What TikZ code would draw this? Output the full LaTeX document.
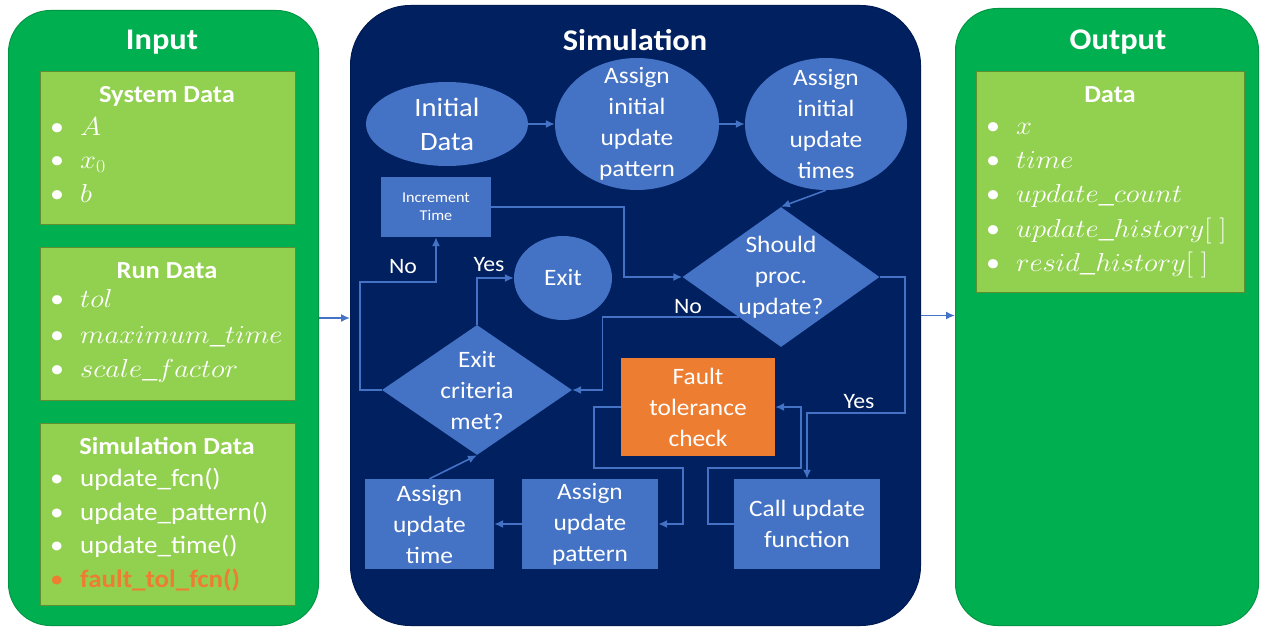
\documentclass[tikz,border=0pt]{standalone}
\usepackage{fix-cm}
\usepackage{fontspec}
\setmainfont{Carlito}[FakeStretch=1.08]
\usetikzlibrary{shapes.geometric,arrows.meta,calc}
\definecolor{ingreen}{HTML}{00B050}
\definecolor{boxgreen}{HTML}{92D050}
\definecolor{boxedge}{HTML}{5E8F33}
\definecolor{navy}{HTML}{002060}
\definecolor{nodeblue}{HTML}{4472C4}
\definecolor{orng}{HTML}{ED7D31}
\newcommand{\myitem}[1]{\makebox[30pt][l]{\textbullet}#1}
\newcommand{\mthitem}[1]{\makebox[30pt][l]{\textbullet}\scalebox{1.1}[1]{$#1$}}
\begin{document}
\begin{tikzpicture}[x=1pt,y=-1pt,
  panelbox/.style={anchor=north west, inner sep=0pt, draw=#1!85!black, line width=1pt, fill=#1},
  databox/.style={anchor=north west, inner sep=0pt, fill=boxgreen, draw=boxedge, line width=0.8pt},
  bigtitle/.style={text=white, font=\fontsize{30}{36}\selectfont\bfseries, inner sep=0pt},
  subtitle/.style={text=white, font=\fontsize{24.5}{30}\selectfont\bfseries, inner sep=0pt},
  item/.style={anchor=west, text=white, inner sep=0pt, text height=17pt, text depth=6pt, font=\fontsize{25}{30}\selectfont},
  mitem/.style={item, font=\fontsize{26}{30}\selectfont},
  flow/.style={fill=nodeblue, inner sep=0pt},
  flowtext/.style={text=white, align=center, inner sep=0pt, font=\fontsize{23.5}{31}\selectfont},
  bigflowtext/.style={text=white, align=center, inner sep=0pt, font=\fontsize{26.5}{34}\selectfont},
  smalltext/.style={text=white, align=center, inner sep=0pt, font=\fontsize{15}{18}\selectfont},
  yn/.style={text=white, inner sep=0pt, font=\fontsize{22}{26}\selectfont},
  conn/.style={draw=nodeblue, line width=1.6pt, -{Latex[length=9pt,width=8pt]}}
]
\fill[white] (0,0) rectangle (1263,628);
\useasboundingbox (0,0) rectangle (1263,628);

% panels
\node[panelbox=ingreen, minimum width=310pt, minimum height=615pt, rounded corners=42pt] (input) at (8,10) {};
\node[panelbox=navy, minimum width=570pt, minimum height=620pt, rounded corners=60pt] (sim) at (350,5) {};
\node[panelbox=ingreen, minimum width=303pt, minimum height=617pt, rounded corners=42pt] (output) at (955,8) {};

\node[bigtitle] (intitle) at (162,42) {Input};
\node[bigtitle] (simtitle) at (635,40) {Simulation};
\node[bigtitle] (outtitle) at (1118,42) {Output};

% input boxes
\node[databox, minimum width=255pt, minimum height=153pt] (sysbox) at (40,71) {};
\node[subtitle] (systitle) at (167,96) {System Data};
\node[mitem] (sysA) at (50,130) {\mthitem{A}};
\node[mitem] (sysx) at (50,163) {\mthitem{x_0}};
\node[mitem] (sysb) at (50,197) {\mthitem{b}};

\node[databox, minimum width=255pt, minimum height=153pt] (runbox) at (40,247) {};
\node[subtitle] (runtitle) at (167,271) {Run Data};
\node[mitem] (runtol) at (50,302) {\mthitem{tol}};
\node[mitem] (runmax) at (50,338) {\mthitem{maximum\_time}};
\node[mitem] (runscale) at (50,372) {\mthitem{scale\_factor}};

\node[databox, minimum width=255pt, minimum height=182pt] (simbox) at (40,423) {};
\node[subtitle] (simdtitle) at (167,446) {Simulation Data};
\node[item] (sdA) at (50,481) {\myitem{update\_fcn()}};
\node[item] (sdB) at (50,515) {\myitem{update\_pattern()}};
\node[item] (sdC) at (50,548) {\myitem{update\_time()}};
\node[item, text=orng] (sdD) at (50,582) {\myitem{\bfseries fault\_tol\_fcn()}};

% output box
\node[databox, minimum width=268pt, minimum height=221pt] (outbox) at (976,71) {};
\node[subtitle] (outdtitle) at (1110,95) {Data};
\node[mitem] (oA) at (986,129) {\mthitem{x}};
\node[mitem] (oB) at (986,163) {\mthitem{time}};
\node[mitem] (oC) at (986,197) {\mthitem{update\_count}};
\node[mitem] (oD) at (986,232) {\mthitem{update\_history[\;]}};
\node[mitem] (oE) at (986,266) {\mthitem{resid\_history[\;]}};

% simulation flow nodes
\node[flow, ellipse, minimum width=162pt, minimum height=84pt,
  label={[bigflowtext]center:{Initial\\Data}}] (init) at (447,124) {};
\node[flow, ellipse, minimum width=164pt, minimum height=132pt,
  label={[flowtext]center:{Assign\\initial\\update\\pattern}}] (pat) at (637,124) {};
\node[flow, ellipse, minimum width=162pt, minimum height=132pt,
  label={[flowtext]center:{Assign\\initial\\update\\times}}] (times) at (826,124) {};
\node[flow, rectangle, minimum width=110pt, minimum height=60pt,
  label={[smalltext]center:{Increment\\Time}}] (inc) at (436,207) {};
\node[flow, ellipse, minimum width=98pt, minimum height=84pt,
  label={[flowtext]center:{Exit}}] (exit) at (563,278) {};
\node[flow, diamond, minimum width=197pt, minimum height=140pt,
  label={[flowtext]center:{Should\\proc.\\update?}}] (should) at (781,277) {};
\node[flow, diamond, minimum width=190pt, minimum height=130pt,
  label={[flowtext]center:{Exit\\criteria\\met?}}] (exitc) at (477,390) {};
\node[flow, rectangle, fill=orng, minimum width=154pt, minimum height=98pt,
  label={[flowtext]center:{Fault\\tolerance\\check}}] (fault) at (698,407) {};
\node[flow, rectangle, minimum width=129pt, minimum height=90pt,
  label={[flowtext]center:{Assign\\update\\time}}] (aut) at (429.5,524) {};
\node[flow, rectangle, minimum width=136pt, minimum height=90pt,
  label={[flowtext]center:{Assign\\update\\pattern}}] (aup) at (590,524) {};
\node[flow, rectangle, minimum width=146pt, minimum height=90pt,
  label={[flowtext]center:{Call update\\function}}] (call) at (807,524) {};

% connectors
\draw[conn] (input.east) -- (input.east -| sim.west);
\draw[conn] (sim.east) -- (sim.east -| output.west);
\draw[conn] (init) -- (pat);
\draw[conn] (pat) -- (times);
\draw[conn] (times.south) -- (should.north);
\draw[conn] (inc.east) -- ++(133,0) |- (should.west);
\draw[conn] (should.east) -- ++(25,0) -- ++(0,136) -| (call.north);
\draw[conn] ($(should.west)!0.57!(should.south)$) -- ++(-136,0) |- (exitc.east);
\draw[conn] (exitc.north) |- (exit.west);
\draw[conn] (exitc.west) -- ++(-22,0) -- ++(0,-108) -| (inc.south);
\draw[conn] (aut.north) -- (exitc.south);
\draw[conn] (aup.west) -- (aut.east);
\draw[conn] (call.west) -- ++(-26,0) -- ++(0,-56) -- ++(93,0) |- (fault.east);
\draw[conn] (fault.west) -- ++(-27,0) -- ++(0,61) -- ++(89,0) |- (aup.east);

% labels
\node[yn] (yes1) at (859,402) {Yes};
\node[yn] (no1) at (688,307) {No};
\node[yn] (yes2) at (489,265) {Yes};
\node[yn] (no2) at (403,267) {No};
\end{tikzpicture}
\end{document}
